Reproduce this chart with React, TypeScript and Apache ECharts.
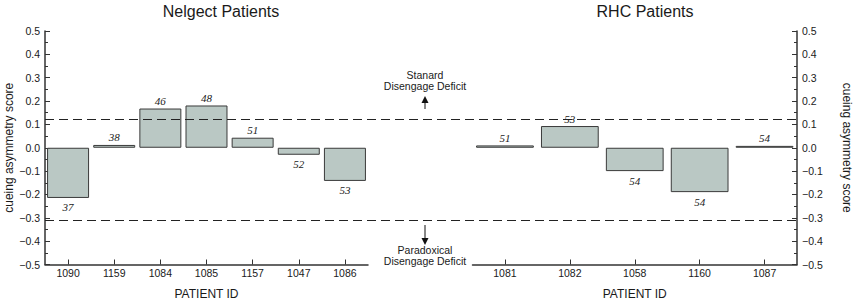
import React, { useEffect, useRef } from "react";
import * as echarts from "echarts";

const neglectIds = ["1090", "1159", "1084", "1085", "1157", "1047", "1086"];
const neglectScores = [-0.215, 0.012, 0.168, 0.181, 0.043, -0.03, -0.142];
const neglectAges = ["37", "38", "46", "48", "51", "52", "53"];

const rhcIds = ["1081", "1082", "1058", "1160", "1087"];
const rhcScores = [0.01, 0.093, -0.1, -0.19, 0.008];
const rhcAges = ["51", "53", "54", "54", "54"];

const yMin = -0.5;
const yMax = 0.5;
const yInterval = 0.1;
const thresholds = [0.12, -0.31];

const titles = ["Nelgect Patients", "RHC Patients"];
const yName = "cueing asymmetry score";
const xName = "PATIENT ID";
const upperNote = "Stanard\nDisengage Deficit";
const lowerNote = "Paradoxical\nDisengage Deficit";

const SANS = "'Liberation Sans', Arial, sans-serif";
const SERIF = "'Liberation Serif', 'Times New Roman', serif";
const INK = "#1a1a1a";
const BAR = "#bac8c4";

function fmt(v: number) {
  const s = Math.abs(v).toFixed(1);
  return v < -1e-9 ? "\u2212" + s : s;
}

function barData(values: number[], ages: string[]) {
  return values.map((v, i) => ({
    value: v,
    label: {
      show: true,
      position: v >= 0 ? "top" : "bottom",
      distance: v >= 0 ? 2 : 4,
      formatter: ages[i],
      fontFamily: SERIF,
      fontStyle: "italic",
      fontSize: 11,
      color: INK,
    },
  }));
}

function yAxisCfg(gridIndex: number, position: "left" | "right") {
  return {
    type: "value",
    gridIndex,
    position,
    min: yMin,
    max: yMax,
    interval: yInterval,
    name: yName,
    nameLocation: "middle",
    nameGap: position === "left" ? 24 : 44,
    nameRotate: position === "left" ? 90 : -90,
    nameTextStyle: { fontFamily: SANS, fontSize: 12, color: INK },
    axisLine: { show: true, onZero: false, lineStyle: { color: "#333", width: 1.5 } },
    axisTick: { show: true, inside: true, length: 5, lineStyle: { color: "#333", width: 1 } },
    minorTick: { show: true, splitNumber: 2, length: 3, lineStyle: { color: "#333", width: 1 } },
    splitLine: { show: false },
    axisLabel: {
      formatter: (v: number) => fmt(v),
      fontFamily: SANS,
      fontSize: 10.5,
      color: INK,
      margin: 5,
    },
  };
}

function xAxisCfg(gridIndex: number, data: string[]) {
  return {
    type: "category",
    gridIndex,
    data,
    position: "bottom",
    name: xName,
    nameLocation: "middle",
    nameGap: 23,
    nameTextStyle: { fontFamily: SANS, fontSize: 12, lineHeight: 12, color: INK },
    axisLine: { show: true, onZero: false, lineStyle: { color: "#333", width: 1.5 } },
    axisTick: { show: true, inside: true, length: 5, alignWithLabel: true, lineStyle: { color: "#333" } },
    axisLabel: { fontFamily: SANS, fontSize: 10.5, color: INK, margin: 3 },
    splitLine: { show: false },
  };
}

export default function App() {
  const ref = useRef<HTMLDivElement>(null);

  useEffect(() => {
    if (!ref.current) return;
    const chart = echarts.init(ref.current, null, { renderer: "svg" });
    const option: any = {
      animation: false,
      backgroundColor: "#fff",
      title: [
        {
          text: titles[0],
          left: 216,
          top: -2,
          textAlign: "center",
          textStyle: { fontFamily: SANS, fontSize: 16, fontWeight: "normal", color: INK },
        },
        {
          text: titles[1],
          left: 640,
          top: -2,
          textAlign: "center",
          textStyle: { fontFamily: SANS, fontSize: 16, fontWeight: "normal", color: INK },
        },
      ],
      grid: [
        { left: 45, top: 31, width: 323, height: 233.5, outerBoundsMode: "none", containLabel: false },
        { left: 472.5, top: 31, width: 324.5, height: 233.5, outerBoundsMode: "none", containLabel: false },
      ],
      xAxis: [xAxisCfg(0, neglectIds), xAxisCfg(1, rhcIds)],
      yAxis: [yAxisCfg(0, "left"), yAxisCfg(1, "right")],
      series: [
        {
          type: "bar",
          xAxisIndex: 0,
          yAxisIndex: 0,
          data: barData(neglectScores, neglectAges),
          barCategoryGap: "9%",
          itemStyle: { color: BAR, borderColor: "#3a3a3a", borderWidth: 1 },
        },
        {
          type: "bar",
          xAxisIndex: 1,
          yAxisIndex: 1,
          data: barData(rhcScores, rhcAges),
          barCategoryGap: "11%",
          itemStyle: { color: BAR, borderColor: "#3a3a3a", borderWidth: 1 },
        },
      ],
    };
    chart.setOption(option);

    const x0 = 45;
    const x1 = 797;
    const lines = thresholds.map((t) => {
      const yRaw = chart.convertToPixel({ yAxisIndex: 0 } as any, t) as number;
      const y = Math.floor(yRaw) + 0.5;
      return {
        type: "line",
        z: 100,
        shape: { x1: x0, y1: y, x2: x1, y2: y },
        style: { stroke: "#222", lineWidth: 1.2, lineDash: [9, 5] },
      };
    });
    const cx = 425;
    const noteStyle = {
      fontFamily: SANS,
      fontSize: 10.5,
      fill: INK,
      align: "center",
      verticalAlign: "top",
      lineHeight: 11,
    };
    const graphics: any[] = [
      ...lines,
      { type: "text", x: cx, y: 69, style: { ...noteStyle, text: upperNote } },
      { type: "line", shape: { x1: cx, y1: 109, x2: cx, y2: 100 }, style: { stroke: "#111", lineWidth: 1 } },
      { type: "polygon", shape: { points: [[cx - 3.5, 103], [cx + 3.5, 103], [cx, 96]] }, style: { fill: "#111" } },
      { type: "line", shape: { x1: cx, y1: 225, x2: cx, y2: 240 }, style: { stroke: "#111", lineWidth: 1 } },
      { type: "polygon", shape: { points: [[cx - 3.5, 238], [cx + 3.5, 238], [cx, 245]] }, style: { fill: "#111" } },
      { type: "text", x: cx, y: 244, style: { ...noteStyle, text: lowerNote } },
    ];
    chart.setOption({ graphic: graphics });

    return () => chart.dispose();
  }, []);

  return <div ref={ref} style={{ position: "absolute", left: 0, top: 0, width: 854, height: 301 }} />;
}
